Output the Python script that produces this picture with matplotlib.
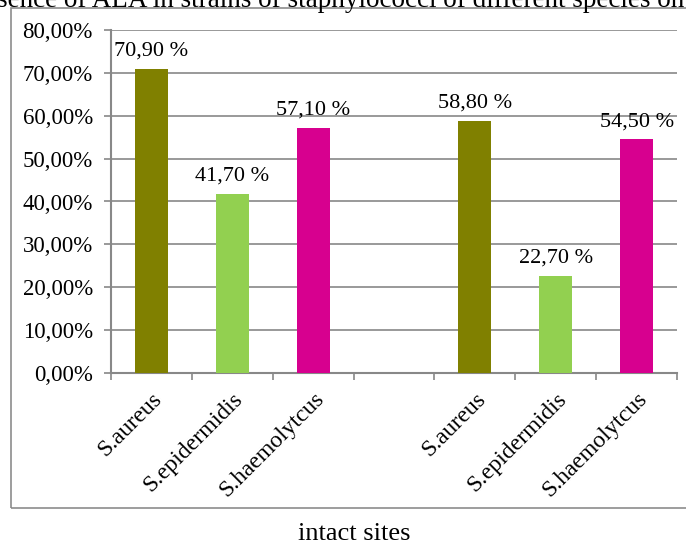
import matplotlib
matplotlib.use("Agg")
import matplotlib.pyplot as plt
from matplotlib.patches import Rectangle

plt.rcParams['font.family'] = ['Liberation Serif', 'DejaVu Serif']

# categories (the empty slot separates the two groups)
categories = ["S.aureus", "S.epidermidis", "S.haemolytcus", "",
              "S.aureus", "S.epidermidis", "S.haemolytcus"]
values = [70.9, 41.7, 57.1, None, 58.8, 22.7, 54.5]
labels = ["70,90 %", "41,70 %", "57,10 %", "", "58,80 %", "22,70 %", "54,50 %"]
colors = ["#808000", "#92D050", "#D7008F", "none",
          "#808000", "#92D050", "#D7008F"]
yticks = [0, 10, 20, 30, 40, 50, 60, 70, 80]
ytick_labels = ["0,00%", "10,00%", "20,00%", "30,00%", "40,00%",
                "50,00%", "60,00%", "70,00%", "80,00%"]

W, H = 686, 545
fig = plt.figure(figsize=(W / 100, H / 100), dpi=100)

# outer chart frame
fig.patches.append(Rectangle((11 / W, 1 - 508 / H), 1.0, (508 - 8) / H,
                             transform=fig.transFigure, fill=False,
                             edgecolor="#8c8c8c", linewidth=1.2))

ax = fig.add_axes([111 / W, 1 - 373 / H, (677 - 111) / W, (373 - 30) / H])
ax.set_zorder(2)
ax.patch.set_alpha(0)

gray = "#888888"
for i, (v, c, lab) in enumerate(zip(values, colors, labels)):
    if v is None:
        continue
    ax.bar(i, v, width=0.41, color=c, zorder=3)
    ax.annotate(lab, (i, v), xytext=(0, 9.5), textcoords="offset points",
                ha="center", va="baseline", fontsize=16)

ax.set_xlim(-0.5, len(categories) - 0.5)
ax.set_ylim(0, 80)
ax.set_yticks(yticks)
ax.set_yticklabels(ytick_labels, fontsize=16.5)
ax.yaxis.grid(True, color=gray, linewidth=1.2, zorder=0)
ax.set_axisbelow(True)

ax.set_xticks(range(len(categories)))
ax.set_xticklabels(categories, rotation=45, ha="right", rotation_mode="anchor",
                   fontsize=17)
ax.set_xticks([i - 0.5 for i in range(len(categories) + 1)], minor=True)
ax.tick_params(axis="x", which="major", length=0, pad=11)
ax.tick_params(axis="x", which="minor", length=5, color=gray, width=1.2)
ax.tick_params(axis="y", length=5, color=gray, width=1.2, pad=8)

for s in ["top", "right"]:
    ax.spines[s].set_visible(False)
for s in ["left", "bottom"]:
    ax.spines[s].set_color(gray)
    ax.spines[s].set_linewidth(1.5)

fig.text(684 / W, 1 - 7 / H,
         "Presence of ALA in strains of staphylococci of different species on",
         ha="right", va="baseline", fontsize=19.5)
fig.text(354 / W, 1 - 540 / H, "intact sites", ha="center", va="baseline",
         fontsize=19)

fig.savefig("out.png", dpi=100)
